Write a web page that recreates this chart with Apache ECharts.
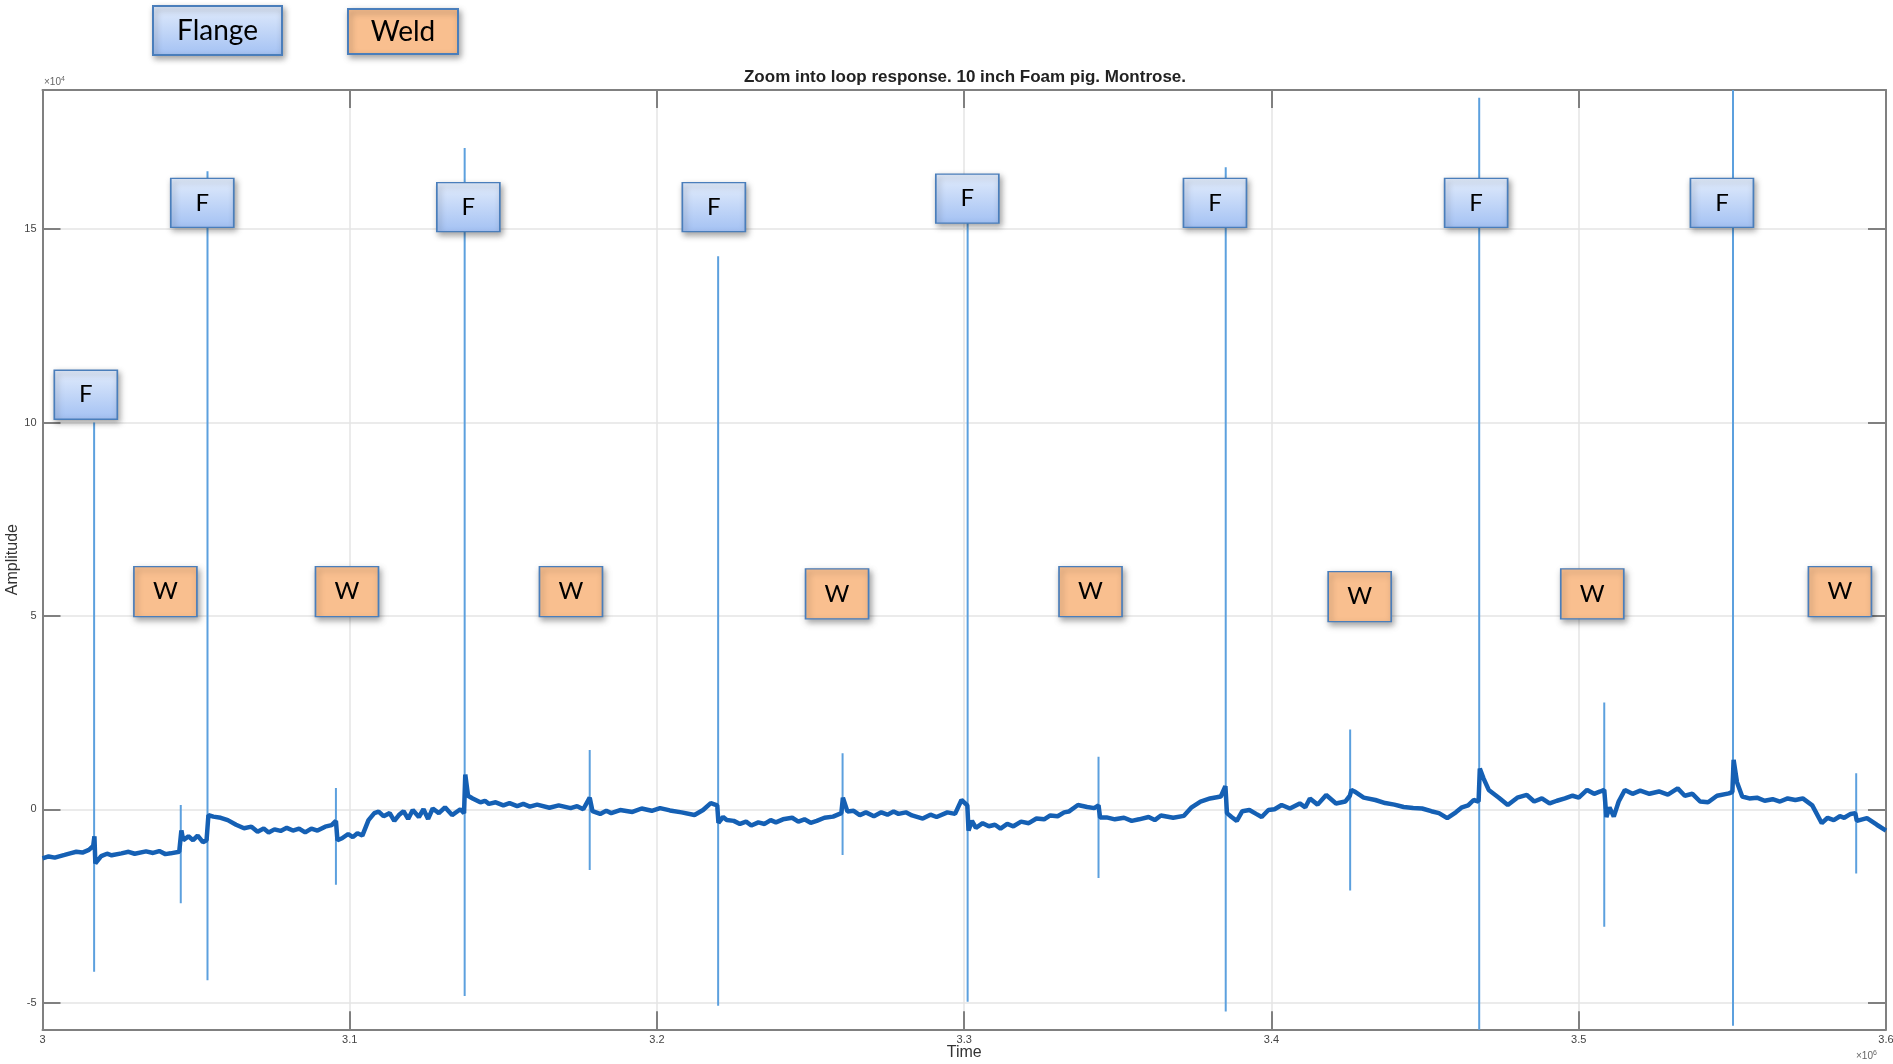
<!DOCTYPE html>
<html>
<head>
<meta charset="utf-8">
<title>Zoom into loop response</title>
<script src="https://cdn.jsdelivr.net/npm/echarts@6/dist/echarts.min.js"></script>
<style>
  html, body { margin: 0; padding: 0; background: #fff; }
  #chart { width: 1893px; height: 1064px; }
</style>
</head>
<body>
<div id="chart"></div>
<script>
// time in units of 1e6, amplitude in units of 1e4 (as on the MATLAB axes)
const baseTime = [
  3.0000, 3.0020, 3.0040, 3.0072, 3.0090, 3.0110, 3.0130, 3.0151, 3.0165, 3.0169,
  3.0172, 3.0191, 3.0210, 3.0225, 3.0257, 3.0280, 3.0300, 3.0337, 3.0360, 3.0380,
  3.0400, 3.0417, 3.0445, 3.0452, 3.0458, 3.0475, 3.0490, 3.0505, 3.0522, 3.0534,
  3.0540, 3.0556, 3.0580, 3.0603, 3.0630, 3.0656, 3.0680, 3.0700, 3.0720, 3.0736,
  3.0755, 3.0775, 3.0795, 3.0815, 3.0835, 3.0855, 3.0875, 3.0895, 3.0920, 3.0941,
  3.0955, 3.0960, 3.0975, 3.0995, 3.1010, 3.1025, 3.1041, 3.1061, 3.1080, 3.1094,
  3.1110, 3.1130, 3.1145, 3.1160, 3.1175, 3.1190, 3.1205, 3.1225, 3.1240, 3.1255,
  3.1270, 3.1290, 3.1310, 3.1333, 3.1360, 3.1372, 3.1376, 3.1385, 3.1400, 3.1425,
  3.1440, 3.1453, 3.1475, 3.1500, 3.1520, 3.1545, 3.1565, 3.1586, 3.1610, 3.1650,
  3.1680, 3.1719, 3.1740, 3.1760, 3.1781, 3.1790, 3.1815, 3.1835, 3.1851, 3.1880,
  3.1920, 3.1950, 3.1983, 3.2010, 3.2042, 3.2080, 3.2122, 3.2150, 3.2175, 3.2196,
  3.2200, 3.2215, 3.2227, 3.2250, 3.2270, 3.2290, 3.2307, 3.2330, 3.2350, 3.2370,
  3.2387, 3.2410, 3.2440, 3.2460, 3.2480, 3.2500, 3.2520, 3.2545, 3.2573, 3.2600,
  3.2605, 3.2620, 3.2640, 3.2660, 3.2680, 3.2706, 3.2730, 3.2750, 3.2770, 3.2786,
  3.2810, 3.2830, 3.2865, 3.2890, 3.2910, 3.2945, 3.2970, 3.2991, 3.3010, 3.3014,
  3.3025, 3.3038, 3.3060, 3.3080, 3.3100, 3.3118, 3.3140, 3.3160, 3.3185, 3.3210,
  3.3235, 3.3260, 3.3280, 3.3304, 3.3325, 3.3340, 3.3370, 3.3400, 3.3423, 3.3437,
  3.3442, 3.3463, 3.3490, 3.3520, 3.3545, 3.3569, 3.3600, 3.3620, 3.3640, 3.3680,
  3.3715, 3.3740, 3.3769, 3.3800, 3.3835, 3.3850, 3.3855, 3.3870, 3.3887, 3.3905,
  3.3928, 3.3950, 3.3968, 3.3990, 3.4010, 3.4033, 3.4060, 3.4092, 3.4110, 3.4125,
  3.4150, 3.4178, 3.4210, 3.4240, 3.4255, 3.4260, 3.4270, 3.4300, 3.4338, 3.4370,
  3.4400, 3.4430, 3.4461, 3.4490, 3.4520, 3.4545, 3.4572, 3.4600, 3.4620, 3.4640,
  3.4658, 3.4674, 3.4678, 3.4690, 3.4707, 3.4740, 3.4769, 3.4800, 3.4831, 3.4855,
  3.4880, 3.4905, 3.4929, 3.4955, 3.4980, 3.5000, 3.5027, 3.5050, 3.5070, 3.5083,
  3.5090, 3.5100, 3.5114, 3.5130, 3.5150, 3.5175, 3.5200, 3.5230, 3.5261, 3.5290,
  3.5322, 3.5345, 3.5370, 3.5395, 3.5421, 3.5450, 3.5489, 3.5500, 3.5504, 3.5515,
  3.5532, 3.5555, 3.5580, 3.5605, 3.5631, 3.5655, 3.5680, 3.5705, 3.5729, 3.5760,
  3.5791, 3.5810, 3.5830, 3.5850, 3.5864, 3.5885, 3.5900, 3.5905, 3.5938, 3.5970,
  3.6000
];
const baseAmp = [
  -1.27, -1.22, -1.25, -1.18, -1.14, -1.10, -1.12, -1.05, -0.95, -0.70,
  -1.40, -1.21, -1.15, -1.19, -1.14, -1.10, -1.15, -1.09, -1.13, -1.08,
  -1.16, -1.14, -1.10, -0.55, -0.80, -0.70, -0.80, -0.68, -0.85, -0.80,
  -0.15, -0.19, -0.22, -0.28, -0.40, -0.49, -0.45, -0.58, -0.50, -0.60,
  -0.52, -0.56, -0.48, -0.55, -0.50, -0.60, -0.50, -0.55, -0.45, -0.41,
  -0.30, -0.80, -0.75, -0.64, -0.72, -0.62, -0.68, -0.28, -0.10, -0.06,
  -0.18, -0.10, -0.30, -0.15, -0.05, -0.25, -0.02, -0.20, 0.00, -0.25,
  0.02, -0.10, 0.05, -0.15, 0.00, -0.10, 0.90, 0.35, 0.28, 0.18,
  0.22, 0.14, 0.18, 0.10, 0.16, 0.08, 0.14, 0.07, 0.12, 0.04,
  0.10, 0.03, 0.08, 0.00, 0.30, -0.05, -0.12, -0.04, -0.10, -0.02,
  -0.07, 0.02, -0.04, 0.03, -0.03, -0.08, -0.15, -0.02, 0.16, 0.10,
  -0.35, -0.20, -0.28, -0.30, -0.38, -0.32, -0.42, -0.34, -0.38, -0.28,
  -0.34, -0.26, -0.22, -0.32, -0.26, -0.35, -0.30, -0.22, -0.19, -0.10,
  0.30, -0.06, -0.04, -0.15, -0.08, -0.18, -0.08, -0.14, -0.06, -0.12,
  -0.08, -0.16, -0.24, -0.14, -0.20, -0.08, -0.12, 0.24, 0.10, -0.55,
  -0.30, -0.48, -0.36, -0.44, -0.40, -0.50, -0.38, -0.44, -0.32, -0.36,
  -0.24, -0.26, -0.16, -0.18, -0.08, -0.06, 0.11, 0.06, 0.03, 0.10,
  -0.21, -0.21, -0.26, -0.22, -0.30, -0.26, -0.20, -0.28, -0.16, -0.22,
  -0.17, 0.05, 0.20, 0.28, 0.33, 0.60, -0.10, -0.20, -0.30, -0.05,
  -0.02, -0.12, -0.20, -0.02, 0.00, 0.11, 0.02, 0.15, 0.05, 0.28,
  0.12, 0.37, 0.15, 0.20, 0.35, 0.50, 0.46, 0.30, 0.24, 0.16,
  0.12, 0.06, 0.03, 0.02, -0.05, -0.10, -0.23, -0.08, 0.05, 0.10,
  0.24, 0.20, 1.05, 0.80, 0.50, 0.30, 0.11, 0.30, 0.37, 0.20,
  0.28, 0.15, 0.22, 0.28, 0.35, 0.30, 0.50, 0.40, 0.46, 0.50,
  -0.20, 0.05, -0.19, 0.20, 0.50, 0.40, 0.48, 0.40, 0.46, 0.38,
  0.54, 0.35, 0.40, 0.20, 0.18, 0.35, 0.41, 0.45, 1.28, 0.70,
  0.33, 0.28, 0.30, 0.22, 0.26, 0.20, 0.28, 0.24, 0.28, 0.10,
  -0.36, -0.22, -0.28, -0.18, -0.22, -0.12, -0.10, -0.30, -0.23, -0.40,
  -0.55
];

// flange reflections (tall spikes)
const flangeTime = [3.0168, 3.0537, 3.1374, 3.2199, 3.3011, 3.3851, 3.4676, 3.5502];
const flangeTop = [10.0, 16.5, 17.1, 14.3, 16.2, 16.6, 18.4, 18.6];
const flangeBottom = [-4.2, -4.42, -4.83, -5.08, -4.98, -5.23, -5.7, -5.6];

// weld reflections (small spikes)
const weldTime = [3.0450, 3.0955, 3.1781, 3.2604, 3.3437, 3.4256, 3.5083, 3.5903];
const weldTop = [0.11, 0.55, 1.53, 1.45, 1.36, 2.06, 2.76, 0.93];
const weldBottom = [-2.43, -1.95, -1.57, -1.18, -1.78, -2.1, -3.04, -1.66];

// "F" / "W" annotation box centres
const flangeBoxTime = [3.0141, 3.0520, 3.1386, 3.2185, 3.3010, 3.3816, 3.4666, 3.5466];
const flangeBoxAmp = [10.72, 15.68, 15.57, 15.57, 15.79, 15.68, 15.68, 15.68];
const weldBoxTime = [3.0400, 3.0991, 3.1720, 3.2586, 3.3411, 3.4287, 3.5044, 3.5850];
const weldBoxAmp = [5.63, 5.63, 5.63, 5.57, 5.63, 5.50, 5.57, 5.63];

const baseline = baseTime.map((t, i) => [t, baseAmp[i]]);

const spikeList = [];
flangeTime.forEach((t, i) => spikeList.push([t, flangeTop[i], flangeBottom[i]]));
weldTime.forEach((t, i) => spikeList.push([t, weldTop[i], weldBottom[i]]));
spikeList.sort((a, b) => a[0] - b[0]);
const spikes = [];
spikeList.forEach(s => {
  spikes.push([s[0], s[1]], [s[0], s[2]], [s[0], '-']);
});

const boxBlue = () => new echarts.graphic.LinearGradient(0, 0, 0, 1, [
  { offset: 0, color: '#e2ecfc' },
  { offset: 1, color: '#a3c1f3' }
]);
const boxOrange = '#f9bf8f';
const boxBorder = '#4a7ebb';
const axisGrey = '#808080';
const labelFont = 'Liberation Sans';
const boxShadow = { shadowBlur: 6, shadowOffsetX: 2, shadowOffsetY: 3, shadowColor: 'rgba(0,0,0,0.35)' };

const chart = echarts.init(document.getElementById('chart'));

const axisCommon = {
  type: 'value',
  axisLine: { show: true, onZero: false, lineStyle: { color: axisGrey, width: 2 } },
  axisTick: { show: true, inside: true, length: 18, lineStyle: { color: axisGrey, width: 2 } }
};

const expText = (x, y, exp) => ({
  type: 'text', z: 10, x: x, y: y,
  style: {
    text: '{a|×10}{b|' + exp + '}',
    rich: {
      a: { fontFamily: labelFont, fontSize: 10, fill: '#666', color: '#666' },
      b: { fontFamily: labelFont, fontSize: 7, fill: '#666', color: '#666', padding: [0, 0, 6, 0] }
    }
  }
});

chart.setOption({
  animation: false,
  backgroundColor: '#fff',
  grid: { left: 42.5, right: 7, top: 90, bottom: 34.7, outerBoundsMode: 'none', containLabel: false },
  title: {
    text: 'Zoom into loop response. 10 inch Foam pig. Montrose.',
    left: 960,
    textAlign: 'center',
    top: 64,
    textStyle: { fontFamily: labelFont, fontSize: 17, fontWeight: 'bold', color: '#222' }
  },
  xAxis: [
    Object.assign({}, axisCommon, {
      min: 3, max: 3.6, splitNumber: 6, position: 'bottom',
      name: 'Time', nameLocation: 'middle', nameGap: 15, nameMoveOverlap: false,
      nameTextStyle: { fontFamily: labelFont, fontSize: 16, color: '#333' },
      axisLabel: { fontFamily: labelFont, fontSize: 11, color: '#444', margin: 5 },
      splitLine: { show: true, lineStyle: { color: '#e4e4e4', width: 1.5 } }
    }),
    Object.assign({}, axisCommon, {
      min: 3, max: 3.6, splitNumber: 6, position: 'top',
      axisLabel: { show: false }, splitLine: { show: false }
    })
  ],
  yAxis: [
    Object.assign({}, axisCommon, {
      min: -5.69, max: 18.6, splitNumber: 5, position: 'left',
      name: 'Amplitude', nameLocation: 'middle', nameGap: 22, nameMoveOverlap: false,
      nameTextStyle: { fontFamily: labelFont, fontSize: 16, color: '#333' },
      axisLabel: { fontFamily: labelFont, fontSize: 11, color: '#444', margin: 6,
                   showMinLabel: false, showMaxLabel: false },
      splitLine: { show: true, lineStyle: { color: '#e4e4e4', width: 1.5 } }
    }),
    Object.assign({}, axisCommon, {
      min: -5.69, max: 18.6, splitNumber: 5, position: 'right',
      axisLabel: { show: false }, splitLine: { show: false }
    })
  ],
  graphic: [
    {
      type: 'rect', z: 10,
      shape: { x: 153, y: 6, width: 129, height: 49 },
      style: Object.assign({ fill: boxBlue(), stroke: boxBorder, lineWidth: 2 }, boxShadow)
    },
    {
      type: 'text', z: 11, x: 217.5, y: 30.5,
      style: { text: 'Flange', font: '28px Lato', fill: '#000',
               align: 'center', verticalAlign: 'middle',
               textAlign: 'center', textVerticalAlign: 'middle' }
    },
    {
      type: 'rect', z: 10,
      shape: { x: 348, y: 9, width: 110, height: 45 },
      style: Object.assign({ fill: boxOrange, stroke: boxBorder, lineWidth: 2 }, boxShadow)
    },
    {
      type: 'text', z: 11, x: 403, y: 32,
      style: { text: 'Weld', font: '28px Lato', fill: '#000',
               align: 'center', verticalAlign: 'middle',
               textAlign: 'center', textVerticalAlign: 'middle' }
    },
    expText(44, 76, '4'),
    expText(1856, 1050, '6')
  ],
  series: [
    {
      type: 'line', name: 'signal', showSymbol: false, silent: true, z: 3,
      data: baseline,
      lineStyle: { color: '#1560b4', width: 4.5 },
      emphasis: { disabled: true }
    },
    {
      type: 'line', name: 'spikes', showSymbol: false, silent: true, z: 2,
      connectNulls: false,
      data: spikes,
      lineStyle: { color: '#5ca0de', width: 2 },
      emphasis: { disabled: true }
    },
    {
      type: 'scatter', name: 'Flange', silent: true, z: 6,
      symbol: 'rect', symbolSize: [63, 49],
      data: flangeBoxTime.map((t, i) => [t, flangeBoxAmp[i]]),
      itemStyle: Object.assign({ color: boxBlue(), borderColor: boxBorder, borderWidth: 1.5, opacity: 1 }, boxShadow),
      label: { show: true, position: 'inside', formatter: 'F', fontFamily: 'Lato', fontSize: 24, color: '#000' },
      emphasis: { disabled: true }
    },
    {
      type: 'scatter', name: 'Weld', silent: true, z: 6,
      symbol: 'rect', symbolSize: [63, 50],
      data: weldBoxTime.map((t, i) => [t, weldBoxAmp[i]]),
      itemStyle: Object.assign({ color: boxOrange, borderColor: boxBorder, borderWidth: 1.5, opacity: 1 }, boxShadow),
      label: { show: true, position: 'inside', formatter: 'W', fontFamily: 'Lato', fontSize: 24, color: '#000' },
      emphasis: { disabled: true }
    }
  ]
});
</script>
</body>
</html>
